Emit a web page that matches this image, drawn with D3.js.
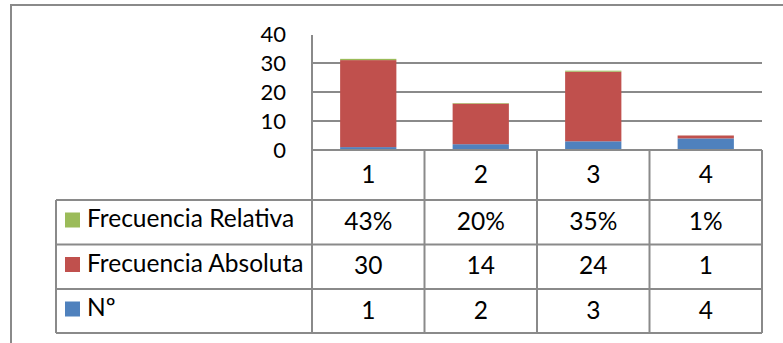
<!DOCTYPE html>
<html>
<head>
<meta charset="utf-8">
<script src="https://cdn.jsdelivr.net/npm/d3@7"></script>
<style>
  html, body { margin: 0; padding: 0; background: #fff; }
  svg { display: block; }
  text { font-family: Lato, "Open Sans", sans-serif; fill: #000; }
</style>
</head>
<body>
<svg id="chart" width="783" height="343"></svg>
<script>
// Data
const categories = ["1", "2", "3", "4"];
const seriesNames = ["Nº", "Frecuencia Absoluta", "Frecuencia Relativa"];
const numero = [1, 2, 3, 4];
const frecAbsoluta = [30, 14, 24, 1];
const frecRelativa = [0.43, 0.20, 0.35, 0.01];
const yTicks = [0, 10, 20, 30, 40];
const gridTicks = [10, 20, 30];
const colors = ["#4F81BD", "#C0504D", "#9BBB59"];

const rows = categories.map((c, i) => ({
  cat: c,
  "Nº": numero[i],
  "Frecuencia Absoluta": frecAbsoluta[i],
  "Frecuencia Relativa": frecRelativa[i]
}));

const svg = d3.select("#chart");
const lineColor = "#8a8a8a";

// Layout
const plotLeft = 312, plotRight = 762;
const plotTop = 34, plotBottom = 150;
const tableLeft = 56;
const rowLines = [150, 200, 244.5, 289, 333];

const x = d3.scaleBand().domain(categories).range([plotLeft, plotRight]).paddingInner(0.5).paddingOuter(0.25);
const xCell = d3.scaleBand().domain(categories).range([plotLeft, plotRight]);
const y = d3.scaleLinear().domain([0, 40]).range([plotBottom, plotTop]);

// Outer frame
svg.append("path")
  .attr("d", "M11,343 L11,5 L783,5")
  .attr("fill", "none").attr("stroke", lineColor).attr("stroke-width", 2);

// Gridlines
svg.append("g").selectAll("line").data(gridTicks).join("line")
  .attr("x1", plotLeft).attr("x2", plotRight)
  .attr("y1", d => y(d)).attr("y2", d => y(d))
  .attr("stroke", lineColor).attr("stroke-width", 2);

// Stacked bars
const stack = d3.stack().keys(seriesNames);
const layers = stack(rows);
svg.append("g").selectAll("g").data(layers).join("g")
  .attr("fill", (d, i) => colors[i])
  .selectAll("rect").data(d => d).join("rect")
  .attr("x", d => x(d.data.cat))
  .attr("width", x.bandwidth())
  .attr("y", d => y(d[1]))
  .attr("height", d => Math.max(0, y(d[0]) - y(d[1])));

// Y axis labels
const yAxis = d3.axisLeft(y).tickValues(yTicks).tickSize(0).tickPadding(26);
const gy = svg.append("g").attr("transform", `translate(${plotLeft},0)`).call(yAxis);
gy.select(".domain").remove();
gy.selectAll("text")
  .style("font-family", "Lato, 'Open Sans', sans-serif")
  .attr("font-size", 22).attr("fill", "#000");

// Y axis line (continues through the data table)
svg.append("line")
  .attr("x1", plotLeft).attr("x2", plotLeft)
  .attr("y1", 35).attr("y2", rowLines[rowLines.length - 1])
  .attr("stroke", lineColor).attr("stroke-width", 2);

// Data table grid
const table = svg.append("g");
table.selectAll("line.h").data(rowLines).join("line")
  .attr("class", "h")
  .attr("x1", (d, i) => i === 0 ? plotLeft : tableLeft).attr("x2", plotRight)
  .attr("y1", d => d).attr("y2", d => d)
  .attr("stroke", lineColor).attr("stroke-width", 2);
table.selectAll("line.v").data(categories).join("line")
  .attr("class", "v")
  .attr("x1", d => xCell(d) + xCell.bandwidth()).attr("x2", d => xCell(d) + xCell.bandwidth())
  .attr("y1", rowLines[0]).attr("y2", rowLines[rowLines.length - 1])
  .attr("stroke", lineColor).attr("stroke-width", 2);
table.append("line")
  .attr("x1", tableLeft).attr("x2", tableLeft)
  .attr("y1", rowLines[1]).attr("y2", rowLines[rowLines.length - 1])
  .attr("stroke", lineColor).attr("stroke-width", 2);

const fs = 24.5;
// Header row: categories
table.selectAll("text.cat").data(categories).join("text")
  .attr("class", "cat")
  .attr("x", d => xCell(d) + xCell.bandwidth() / 2)
  .attr("y", rowLines[0] + 33)
  .attr("text-anchor", "middle")
  .attr("font-size", fs).text(d => d);

// Series rows, top to bottom in reverse stacking order
const pct = d3.format(".0%");
const tableRows = [
  { name: seriesNames[2], color: colors[2], values: frecRelativa.map(v => pct(v)) },
  { name: seriesNames[1], color: colors[1], values: frecAbsoluta.map(String) },
  { name: seriesNames[0], color: colors[0], values: numero.map(String) }
];
tableRows.forEach((r, i) => {
  const top = rowLines[i + 1];
  table.append("rect")
    .attr("x", 65).attr("y", top + 12.5).attr("width", 15).attr("height", 15)
    .attr("fill", r.color);
  table.append("text")
    .attr("x", 87).attr("y", top + 27)
    .attr("font-size", fs).text(r.name);
  table.selectAll(null).data(r.values).join("text")
    .attr("x", (d, j) => xCell(categories[j]) + xCell.bandwidth() / 2)
    .attr("y", top + 29.5)
    .attr("text-anchor", "middle")
    .attr("font-size", fs).text(d => d);
});
</script>
</body>
</html>
